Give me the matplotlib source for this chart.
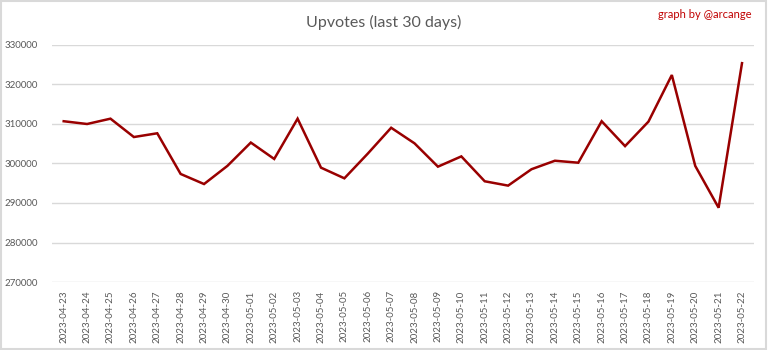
import matplotlib
matplotlib.use("Agg")
import matplotlib.pyplot as plt
from matplotlib.patches import Rectangle

dates = ["2023-04-23", "2023-04-24", "2023-04-25", "2023-04-26", "2023-04-27",
         "2023-04-28", "2023-04-29", "2023-04-30", "2023-05-01", "2023-05-02",
         "2023-05-03", "2023-05-04", "2023-05-05", "2023-05-06", "2023-05-07",
         "2023-05-08", "2023-05-09", "2023-05-10", "2023-05-11", "2023-05-12",
         "2023-05-13", "2023-05-14", "2023-05-15", "2023-05-16", "2023-05-17",
         "2023-05-18", "2023-05-19", "2023-05-20", "2023-05-21", "2023-05-22"]
upvotes = [310700, 310000, 311350, 306700, 307650,
           297350, 294800, 299400, 305300, 301150,
           311350, 298950, 296250, 302500, 309050,
           305100, 299200, 301800, 295500, 294400,
           298550, 300700, 300200, 310700, 304400,
           310600, 322400, 299400, 288800, 325400]
yticks = [270000, 280000, 290000, 300000, 310000, 320000, 330000]

plt.rcParams['font.family'] = ['Lato', 'DejaVu Sans']
fig = plt.figure(figsize=(7.68, 3.5), dpi=100)
ax = fig.add_axes([52/768, 1-282/350, (753.7-52)/768, (282-45)/350])

x = list(range(len(dates)))
ax.plot(x, upvotes, color="#990000", lw=1.8, solid_joinstyle='miter')
ax.set_xlim(-0.5, len(dates)-0.5)
ax.set_ylim(270000, 330000)
ax.set_yticks(yticks)
ax.set_yticklabels([str(v) for v in yticks])
ax.set_xticks(x)
ax.set_xticklabels(dates, rotation=90)
ax.tick_params(axis='both', length=0, labelsize=7, labelcolor="#595959")
ax.tick_params(axis='y', pad=10)
ax.tick_params(axis='x', pad=6)
ax.grid(axis='y', color="#d9d9d9", lw=1)
ax.set_axisbelow(True)
for s in ax.spines.values():
    s.set_visible(False)

fig.text(0.5, 1-22/350, "Upvotes (last 30 days)", ha='center', va='center',
         fontsize=11.5, color="#595959")
fig.text(752/768, 1-14/350, "graph by @arcange", ha='right', va='center',
         fontsize=8, color="#c00000")
fig.patches.append(Rectangle((0.001, 0.002), 0.997, 0.995, transform=fig.transFigure,
                             fill=False, edgecolor="#d9d9d9", lw=1.5))
fig.savefig("out.png", dpi=100)
